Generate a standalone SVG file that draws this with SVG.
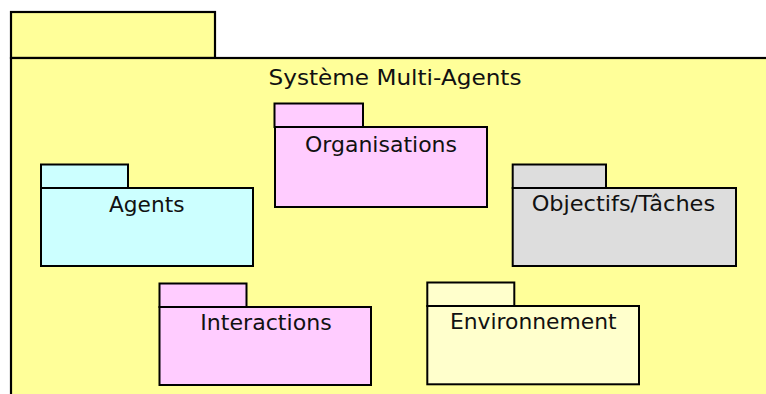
<svg xmlns="http://www.w3.org/2000/svg" width="766" height="394" viewBox="0 0 766 394">
<style>
.s{stroke:#000;stroke-width:2}
.o{stroke:#000;stroke-width:2.2}
.t{font-family:"DejaVu Sans",Verdana,sans-serif;font-size:21.5px;fill:#111;text-anchor:middle}
</style>
<rect width="766" height="394" fill="#fff"/>
<g id="sma">
<rect class="o" x="11" y="12" width="204" height="46" fill="#ffff99"/>
<rect class="o" x="11" y="58" width="800" height="400" fill="#ffff99"/>
<text class="t" x="395" y="85" textLength="253" lengthAdjust="spacingAndGlyphs">Système Multi-Agents</text>
</g>
<g id="organisations">
<rect class="s" x="274.5" y="103.5" width="88.5" height="23.5" fill="#ffccff"/>
<rect class="s" x="275" y="127" width="212" height="80" fill="#ffccff"/>
<text class="t" x="381" y="151.5" textLength="152" lengthAdjust="spacingAndGlyphs">Organisations</text>
</g>
<g id="agents">
<rect class="s" x="41" y="164.5" width="87" height="23.5" fill="#ccffff"/>
<rect class="s" x="41" y="188" width="212" height="78" fill="#ccffff"/>
<text class="t" x="146.7" y="211.5" textLength="75.5" lengthAdjust="spacingAndGlyphs">Agents</text>
</g>
<g id="objectifs">
<rect class="s" x="512.7" y="164.5" width="93.3" height="23.5" fill="#dddddd"/>
<rect class="s" x="512.7" y="188" width="223.3" height="78" fill="#dddddd"/>
<text class="t" x="623.4" y="210.5" textLength="183.5" lengthAdjust="spacingAndGlyphs">Objectifs/Tâches</text>
</g>
<g id="interactions">
<rect class="s" x="159.5" y="283.5" width="87" height="23.5" fill="#ffccff"/>
<rect class="s" x="159.5" y="307" width="211.5" height="78" fill="#ffccff"/>
<text class="t" x="266" y="330" textLength="131.5" lengthAdjust="spacingAndGlyphs">Interactions</text>
</g>
<g id="environnement">
<rect class="s" x="427.3" y="282.5" width="87" height="23.5" fill="#ffffcc"/>
<rect class="s" x="427.3" y="306" width="211.7" height="78.3" fill="#ffffcc"/>
<text class="t" x="533.3" y="329.3" textLength="166.7" lengthAdjust="spacingAndGlyphs">Environnement</text>
</g>
<g id="connectors"></g>
</svg>
